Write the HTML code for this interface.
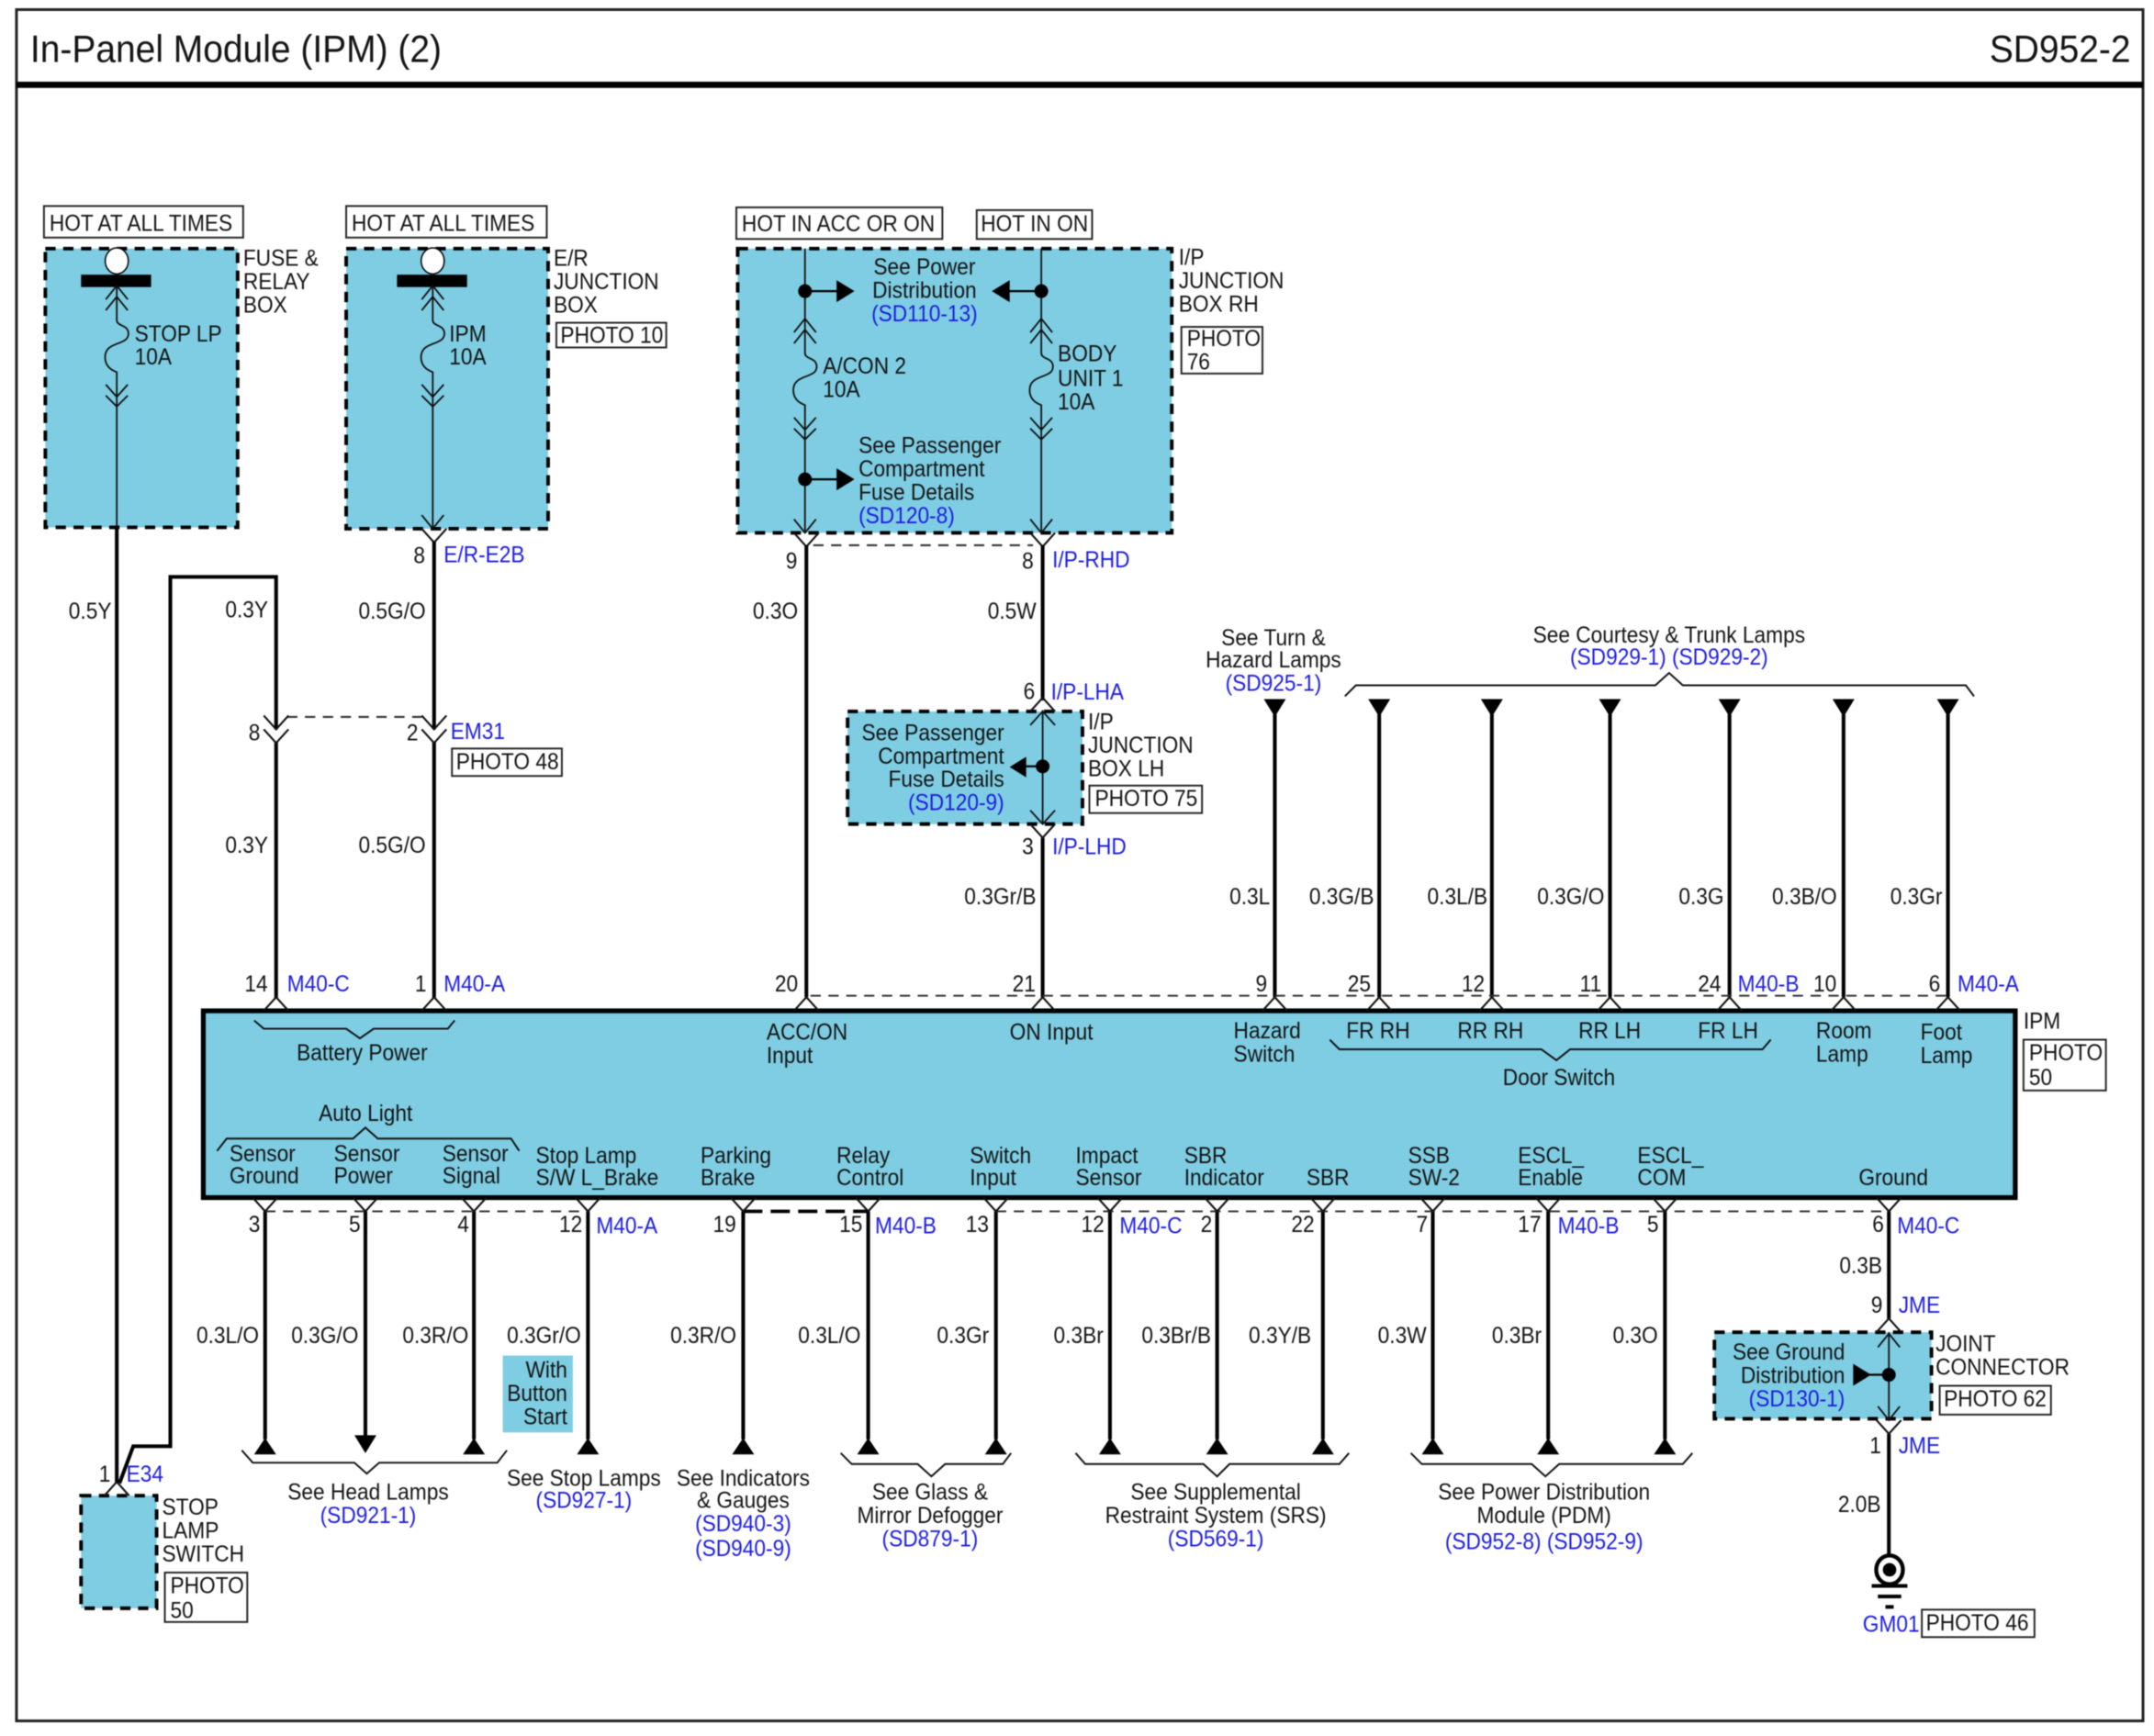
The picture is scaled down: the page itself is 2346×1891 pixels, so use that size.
<!DOCTYPE html>
<html><head><meta charset="utf-8"><title>In-Panel Module (IPM) (2)</title>
<style>
html,body{margin:0;padding:0;background:#fff}
svg{display:block;filter:blur(.5px)}
text{font-family:"Liberation Sans",Arial,sans-serif;font-size:16.5px;fill:#141414;transform-box:fill-box;transform-origin:0 50%;transform:scaleX(.92)}
text.m{text-anchor:middle;transform-origin:50% 50%}
text.e{text-anchor:end;transform-origin:100% 50%}
text.b{fill:#1c1ce0}
text.h{font-size:28px;transform:scaleX(.93)}
.box{fill:#7fcde3;stroke:#000;stroke-width:2.600;stroke-dasharray:7.500 5.500}
.ph{fill:#fff;stroke:#222;stroke-width:1.300}
.w{fill:none;stroke:#000;stroke-width:2.700}
.t{fill:none;stroke:#111;stroke-width:1.200}
.d{fill:none;stroke:#333;stroke-width:1.400;stroke-dasharray:7.500 5.500}
</style></head><body>
<svg xmlns="http://www.w3.org/2000/svg" width="2346" height="1891" viewBox="0 0 1568 1264" preserveAspectRatio="none">
<defs>
<g id="fz" class="t">
<path d="M-8 10L0 0L8 10M-8 18L0 8L8 18M0 0V25C0 30 8.500 28 8.500 35C8.500 44-8.500 40-8.500 52C-8.500 60-2 62 0 63V88M-8 72L0 81L8 72M-8 80L0 88L8 80"/>
</g>
<path id="pu" d="M-9 10L0 0L9 10" fill="none" stroke="#111" stroke-width="1.400"/>
<path id="pd" d="M-9 0L0 10L9 0" fill="none" stroke="#111" stroke-width="1.400"/>
<path id="tu" d="M-8 12L0 0L8 12Z" fill="#000"/>
<path id="td" d="M-8 0H8L0 13Z" fill="#000"/>
</defs>
<rect width="1568" height="1264" fill="#fff"/>
<rect x="12" y="7" width="1548" height="1246" fill="none" stroke="#222" stroke-width="2"/>
<rect x="12" y="59.500" width="1548" height="4.500" fill="#000"/>
<text class="h" x="22" y="45">In-Panel Module (IPM) (2)</text>
<text class="h e" x="1551" y="45">SD952-2</text>

<!-- component boxes -->
<rect class="box" x="33" y="181" width="140" height="203"/>
<rect class="box" x="252" y="181" width="147" height="204"/>
<rect class="box" x="537" y="181" width="316" height="207"/>
<rect class="box" x="617" y="518" width="171" height="82"/>
<rect class="box" x="1248" y="970" width="158" height="63"/>
<rect class="box" x="59" y="1089" width="55" height="82"/>
<rect x="148" y="736" width="1319" height="136" fill="#7fcde3" stroke="#000" stroke-width="3.500"/>
<rect x="366" y="987" width="51" height="56" fill="#7fcde3"/>

<!-- label boxes -->
<rect class="ph" x="32" y="150" width="145" height="23"/><text x="36" y="168">HOT AT ALL TIMES</text>
<rect class="ph" x="252" y="150" width="146" height="23"/><text x="256" y="168">HOT AT ALL TIMES</text>
<rect class="ph" x="536" y="151" width="150" height="23"/><text x="540" y="168.500">HOT IN ACC OR ON</text>
<rect class="ph" x="711" y="153" width="84" height="21"/><text x="714" y="168.500">HOT IN ON</text>
<rect class="ph" x="405" y="235" width="80" height="18"/><text x="408" y="249.500">PHOTO 10</text>
<rect class="ph" x="860" y="238" width="59" height="34"/><text x="864" y="252">PHOTO</text><text x="864" y="269">76</text>
<rect class="ph" x="329" y="545" width="80" height="20"/><text x="332" y="560">PHOTO 48</text>
<rect class="ph" x="793" y="572" width="82" height="20"/><text x="797" y="587">PHOTO 75</text>
<rect class="ph" x="1473" y="757" width="60" height="37"/><text x="1477" y="772">PHOTO</text><text x="1477" y="790">50</text>
<rect class="ph" x="1412" y="1009" width="81" height="21"/><text x="1415" y="1024">PHOTO 62</text>
<rect class="ph" x="1399" y="1172" width="82" height="20"/><text x="1402" y="1187">PHOTO 46</text>
<rect class="ph" x="120" y="1145" width="60" height="36"/><text x="124" y="1160">PHOTO</text><text x="124" y="1178">50</text>

<!-- fuse tops -->
<ellipse cx="85" cy="190" rx="8.400" ry="9.500" fill="#fff" stroke="#000"/><rect x="59" y="200" width="51" height="9"/>
<ellipse cx="315" cy="190" rx="8.400" ry="9.500" fill="#fff" stroke="#000"/><rect x="289" y="200" width="51" height="9"/>
<use href="#fz" x="85" y="208"/><use href="#fz" x="315" y="208"/><use href="#fz" x="586" y="232"/><use href="#fz" x="758" y="232"/>
<path class="t" d="M85 296V384M315 296V384M586 181V232M758 181V232M586 320V388M758 320V388M759 517V600M1375 970V1034"/>
<path class="t" d="M307 375L315 385L323 375M578 378L586 388L594 378M750 378L758 388L766 378"/>
<use href="#pd" x="316" y="385"/><use href="#pd" x="587" y="388"/><use href="#pd" x="759" y="388"/>

<!-- main wires -->
<path class="w" d="M85 384V1080M201 540V727M201 531V420H124V1053H97L87 1080M316 394V531M316 540V727M587 397V726M759 397V510M759 610V726"/>
<path class="w" d="M928 520V726M1004 520V726M1086 520V726M1172 520V726M1259 520V726M1342 520V726M1418 520V726"/>
<path class="w" d="M193 882V1048M266 882V1046M345 882V1048M428 882V1048M541 882V1048M632 882V1048M725 882V1048M808 882V1048M886 882V1048M963 882V1048M1043 882V1048M1127 882V1048M1212 882V1048M1375 882V960M1375 1044V1132"/>

<!-- dashes -->
<path class="d" d="M592 397H752M209 522H307M590 725H1420M193 882H428M725 882H1375"/>
<path d="M541 882H632" stroke="#000" stroke-width="2.500" stroke-dasharray="14 6" fill="none"/>

<!-- connector pins -->
<use href="#pd" x="201" y="521"/><use href="#pd" x="316" y="521"/>
<use href="#pd" x="201" y="531"/><use href="#pd" x="316" y="531"/>
<use href="#pu" x="201" y="726"/><use href="#pu" x="316" y="726"/><use href="#pu" x="587" y="726"/><use href="#pu" x="759" y="726"/><use href="#pu" x="928" y="726"/><use href="#pu" x="1004" y="726"/><use href="#pu" x="1086" y="726"/><use href="#pu" x="1172" y="726"/><use href="#pu" x="1259" y="726"/><use href="#pu" x="1342" y="726"/><use href="#pu" x="1418" y="726"/>
<use href="#pd" x="193" y="872"/><use href="#pd" x="266" y="872"/><use href="#pd" x="345" y="872"/><use href="#pd" x="428" y="872"/><use href="#pd" x="541" y="872"/><use href="#pd" x="632" y="872"/><use href="#pd" x="725" y="872"/><use href="#pd" x="808" y="872"/><use href="#pd" x="886" y="872"/><use href="#pd" x="963" y="872"/><use href="#pd" x="1043" y="872"/><use href="#pd" x="1127" y="872"/><use href="#pd" x="1212" y="872"/><use href="#pd" x="1375" y="872"/>
<use href="#pu" x="85" y="1079"/>
<use href="#pu" x="759" y="508"/><path class="t" d="M750 528L759 518L768 528M750 590L759 600L768 590"/><use href="#pd" x="759" y="600"/>
<use href="#pu" x="1375" y="960"/><path class="t" d="M1367 981L1375 971L1383 981M1367 1024L1375 1034L1383 1024"/><use href="#pd" x="1375" y="1034"/>

<!-- arrowheads -->
<use href="#td" x="928" y="509"/><use href="#td" x="1004" y="509"/><use href="#td" x="1086" y="509"/><use href="#td" x="1172" y="509"/><use href="#td" x="1259" y="509"/><use href="#td" x="1342" y="509"/><use href="#td" x="1418" y="509"/>
<use href="#tu" x="193" y="1047"/><use href="#td" x="266" y="1045"/><use href="#tu" x="345" y="1047"/><use href="#tu" x="428" y="1047"/><use href="#tu" x="541" y="1047"/><use href="#tu" x="632" y="1047"/><use href="#tu" x="725" y="1047"/><use href="#tu" x="808" y="1047"/><use href="#tu" x="886" y="1047"/><use href="#tu" x="963" y="1047"/><use href="#tu" x="1043" y="1047"/><use href="#tu" x="1127" y="1047"/><use href="#tu" x="1212" y="1047"/>

<!-- junction dots -->
<circle cx="586" cy="212" r="5"/><circle cx="758" cy="212" r="5"/><circle cx="586" cy="349" r="5"/><circle cx="759" cy="558" r="5"/><circle cx="1375" cy="1001" r="5"/>
<path d="M586 212H610M734 212H758M586 349H610M747 558H759M1361 1001H1375" stroke="#000" stroke-width="1.500"/>
<path d="M609 204L622 212L609 220ZM735 204L722 212L735 220ZM609 341L622 349L609 357ZM747 551L735 558.500L747 566ZM1349 993V1009L1362 1001Z"/>

<!-- braces -->
<g fill="none" stroke="#111" stroke-width="1.300">
<path d="M979 507L987 499H1205L1215 490L1225 499H1431L1437 507"/>
<path d="M185 743L192 749H252L262 756L272 749H326L331 743"/>
<path d="M968 757L975 764H1122L1133 772L1143 764H1283L1289 757"/>
<path d="M158 838L165 829H257L266 821L275 829H372L378 838"/>
<path d="M176 1056L184 1065H258L267 1073L276 1065H362L369 1056"/>
<path d="M612 1058L620 1066H668L678 1075L688 1066H730L736 1058"/>
<path d="M783 1058L790 1066H876L886 1075L895 1066H975L982 1058"/>
<path d="M1027 1058L1035 1066H1115L1125 1075L1135 1066H1225L1232 1058"/>
</g>

<!-- ground symbol -->
<ellipse cx="1375.500" cy="1143" rx="9.700" ry="10.500" fill="#fff" stroke="#000" stroke-width="2.900"/><circle cx="1375.500" cy="1143" r="4.900"/>
<path d="M1362.500 1154.700H1388.500M1367 1162.400H1384M1372.500 1170H1378.500" stroke="#000" stroke-width="2.700"/>

<!-- box labels -->
<text x="177" y="193.500">FUSE &amp;</text><text x="177" y="210.500">RELAY</text><text x="177" y="227.500">BOX</text>
<text x="98" y="248.500">STOP LP</text><text x="98" y="265.500">10A</text>
<text x="403" y="193.500">E/R</text><text x="403" y="210.500">JUNCTION</text><text x="403" y="227.500">BOX</text>
<text x="327" y="248.500">IPM</text><text x="327" y="265.500">10A</text>
<text x="858" y="193">I/P</text><text x="858" y="210">JUNCTION</text><text x="858" y="227">BOX RH</text>
<text class="m" x="673" y="200">See Power</text><text class="m" x="673" y="217">Distribution</text><text class="m b" x="673" y="234">(SD110-13)</text>
<text x="599" y="272">A/CON 2</text><text x="599" y="289">10A</text>
<text x="770" y="263">BODY</text><text x="770" y="281">UNIT 1</text><text x="770" y="298">10A</text>
<text x="625" y="330">See Passenger</text><text x="625" y="347">Compartment</text><text x="625" y="364">Fuse Details</text><text class="b" x="625" y="381">(SD120-8)</text>
<text class="e" x="731" y="539">See Passenger</text><text class="e" x="731" y="556">Compartment</text><text class="e" x="731" y="573">Fuse Details</text><text class="e b" x="731" y="590">(SD120-9)</text>
<text x="792" y="531">I/P</text><text x="792" y="548">JUNCTION</text><text x="792" y="565">BOX LH</text>
<text x="118" y="1103">STOP</text><text x="118" y="1120">LAMP</text><text x="118" y="1137">SWITCH</text>
<text x="1473" y="749">IPM</text>
<text x="1409" y="984">JOINT</text><text x="1409" y="1001">CONNECTOR</text>
<text class="e" x="1343" y="990">See Ground</text><text class="e" x="1343" y="1007">Distribution</text><text class="e b" x="1343" y="1024">(SD130-1)</text>
<text class="e" x="413" y="1003">With</text><text class="e" x="413" y="1020">Button</text><text class="e" x="413" y="1037">Start</text>

<!-- connector labels -->
<text x="72" y="1079">1</text><text class="b" x="92" y="1079">E34</text>
<text x="301" y="410">8</text><text class="b" x="323" y="409.500">E/R-E2B</text>
<text x="181" y="539">8</text><text x="296" y="539">2</text><text class="b" x="328" y="538">EM31</text>
<text x="572" y="414">9</text><text x="744" y="414">8</text><text class="b" x="766" y="413">I/P-RHD</text>
<text x="745" y="509">6</text><text class="b" x="765" y="509.500">I/P-LHA</text>
<text x="744" y="622">3</text><text class="b" x="766" y="622">I/P-LHD</text>
<text x="178" y="722">14</text><text class="b" x="209" y="722">M40-C</text><text x="302" y="722">1</text><text class="b" x="323" y="722">M40-A</text>
<text x="564" y="722">20</text><text x="737" y="722">21</text><text x="914" y="722">9</text><text x="981" y="722">25</text><text x="1064" y="722">12</text><text x="1150" y="722">11</text><text x="1236" y="722">24</text><text class="b" x="1265" y="722">M40-B</text><text x="1320" y="722">10</text><text x="1404" y="722">6</text><text class="b" x="1425" y="722">M40-A</text>
<text x="181" y="897">3</text><text x="254" y="897">5</text><text x="333" y="897">4</text><text x="407" y="897">12</text><text class="b" x="434" y="898">M40-A</text><text x="519" y="897">19</text><text x="611" y="897">15</text><text class="b" x="637" y="898">M40-B</text><text x="703" y="897">13</text><text x="787" y="897">12</text><text class="b" x="815" y="898">M40-C</text><text x="874" y="897">2</text><text x="940" y="897">22</text><text x="1031" y="897">7</text><text x="1105" y="897">17</text><text class="b" x="1134" y="898">M40-B</text><text x="1199" y="897">5</text><text x="1363" y="897">6</text><text class="b" x="1381" y="898">M40-C</text>
<text x="1362" y="956">9</text><text class="b" x="1382" y="956">JME</text><text x="1361" y="1058">1</text><text class="b" x="1382" y="1058">JME</text>
<text class="b" x="1356" y="1188">GM01</text>

<!-- wire labels -->
<text x="50" y="450.500">0.5Y</text><text x="164" y="449.500">0.3Y</text><text x="261" y="450.500">0.5G/O</text><text x="548" y="450.500">0.3O</text><text x="719" y="450.500">0.5W</text>
<text x="164" y="621">0.3Y</text><text x="261" y="621">0.5G/O</text><text x="702" y="658.500">0.3Gr/B</text>
<text x="895" y="658.500">0.3L</text><text x="953" y="658.500">0.3G/B</text><text x="1039" y="658.500">0.3L/B</text><text x="1119" y="658.500">0.3G/O</text><text x="1222" y="658.500">0.3G</text><text x="1290" y="658.500">0.3B/O</text><text x="1376" y="658.500">0.3Gr</text>
<text x="143" y="978">0.3L/O</text><text x="212" y="978">0.3G/O</text><text x="293" y="978">0.3R/O</text><text x="369" y="978">0.3Gr/O</text><text x="488" y="978">0.3R/O</text><text x="581" y="978">0.3L/O</text><text x="682" y="978">0.3Gr</text><text x="767" y="978">0.3Br</text><text x="831" y="978">0.3Br/B</text><text x="909" y="978">0.3Y/B</text><text x="1003" y="978">0.3W</text><text x="1086" y="978">0.3Br</text><text x="1174" y="978">0.3O</text>
<text x="1339" y="927">0.3B</text><text x="1338" y="1101">2.0B</text>

<!-- references top -->
<text class="m" x="927" y="470">See Turn &amp;</text><text class="m" x="927" y="486">Hazard Lamps</text><text class="m b" x="927" y="503">(SD925-1)</text>
<text class="m" x="1215" y="468">See Courtesy &amp; Trunk Lamps</text><text class="m b" x="1215" y="484">(SD929-1) (SD929-2)</text>

<!-- IPM labels -->
<text x="216" y="772">Battery Power</text>
<text x="558" y="757">ACC/ON</text><text x="558" y="774">Input</text>
<text x="735" y="757">ON Input</text>
<text x="898" y="756">Hazard</text><text x="898" y="773">Switch</text>
<text x="980" y="756">FR RH</text><text x="1061" y="756">RR RH</text><text x="1149" y="756">RR LH</text><text x="1236" y="756">FR LH</text>
<text x="1094" y="790">Door Switch</text>
<text x="1322" y="756">Room</text><text x="1322" y="773">Lamp</text>
<text x="1398" y="757">Foot</text><text x="1398" y="774">Lamp</text>
<text x="232" y="816">Auto Light</text>
<text x="167" y="845.500">Sensor</text><text x="167" y="861.500">Ground</text>
<text x="243" y="845.500">Sensor</text><text x="243" y="861.500">Power</text>
<text x="322" y="845.500">Sensor</text><text x="322" y="861.500">Signal</text>
<text x="390" y="847">Stop Lamp</text><text x="390" y="863">S/W L_Brake</text>
<text x="510" y="847">Parking</text><text x="510" y="863">Brake</text>
<text x="609" y="847">Relay</text><text x="609" y="863">Control</text>
<text x="706" y="847">Switch</text><text x="706" y="863">Input</text>
<text x="783" y="847">Impact</text><text x="783" y="863">Sensor</text>
<text x="862" y="847">SBR</text><text x="862" y="863">Indicator</text>
<text x="951" y="863">SBR</text>
<text x="1025" y="847">SSB</text><text x="1025" y="863">SW-2</text>
<text x="1105" y="847">ESCL_</text><text x="1105" y="863">Enable</text>
<text x="1192" y="847">ESCL_</text><text x="1192" y="863">COM</text>
<text x="1353" y="863">Ground</text>

<!-- references bottom -->
<text class="m" x="268" y="1092">See Head Lamps</text><text class="m b" x="268" y="1109">(SD921-1)</text>
<text class="m" x="425" y="1082">See Stop Lamps</text><text class="m b" x="425" y="1098">(SD927-1)</text>
<text class="m" x="541" y="1082">See Indicators</text><text class="m" x="541" y="1098">&amp; Gauges</text><text class="m b" x="541" y="1115">(SD940-3)</text><text class="m b" x="541" y="1133">(SD940-9)</text>
<text class="m" x="677" y="1092">See Glass &amp;</text><text class="m" x="677" y="1109">Mirror Defogger</text><text class="m b" x="677" y="1126">(SD879-1)</text>
<text class="m" x="885" y="1092">See Supplemental</text><text class="m" x="885" y="1109">Restraint System (SRS)</text><text class="m b" x="885" y="1126">(SD569-1)</text>
<text class="m" x="1124" y="1092">See Power Distribution</text><text class="m" x="1124" y="1109">Module (PDM)</text><text class="m b" x="1124" y="1128">(SD952-8) (SD952-9)</text>
</svg>
</body></html>
